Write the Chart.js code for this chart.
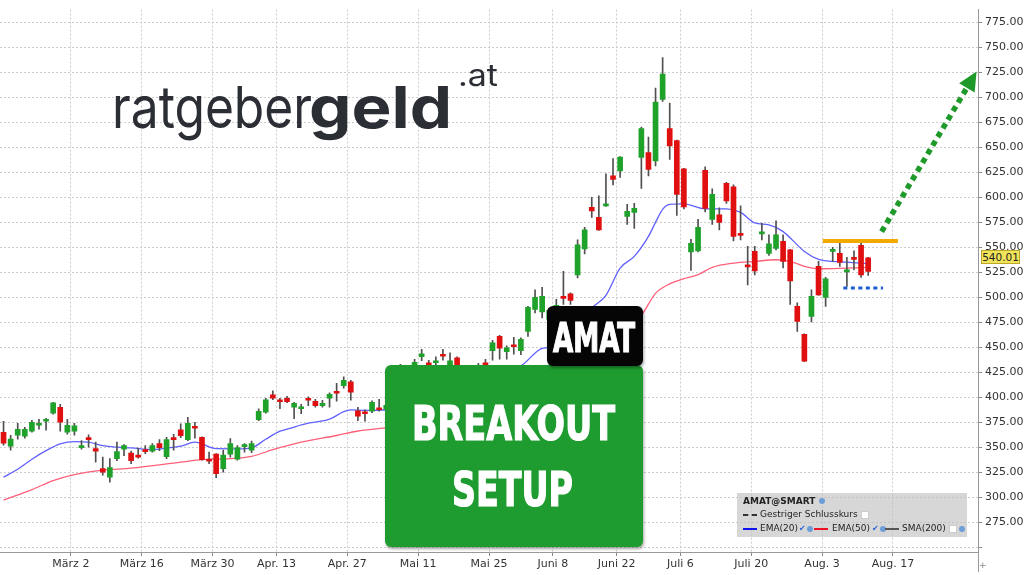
<!DOCTYPE html>
<html>
<head>
<meta charset="utf-8">
<title>AMAT Breakout Setup</title>
<script src="https://cdn.jsdelivr.net/npm/chart.js@4.4.0/dist/chart.umd.min.js"></script>
<style>
  body { margin: 0; background: #fff; }
  #wrap { position: relative; width: 1024px; height: 575px; overflow: hidden; font-family: "DejaVu Sans", sans-serif; }
  #chart { position: absolute; left: 0; top: 0; }
  .fit { position: absolute; display: inline-block; white-space: nowrap; transform-origin: 0 0; }
  .logo { font-family: Inter, "Open Sans", sans-serif; color: #2c2e35; }
  .box { position: absolute; border-radius: 6px; box-shadow: 1px 2px 3px rgba(0,0,0,0.35); }
  .green { left: 385px; top: 365px; width: 258px; height: 182px; background: #1f9c2f; }
  .black { left: 547px; top: 306px; width: 96px; height: 60px; background: #050505; }
  .big { color: #fff; font-family: "Liberation Sans Narrow", "DejaVu Sans Condensed", "DejaVu Sans", sans-serif; font-weight: 700; -webkit-text-stroke: 1.2px #fff; }
  .legend { position: absolute; left: 737px; top: 493px; width: 230px; height: 44px; background: rgba(190,190,190,0.62); font-size: 9px; color: #222; }
  .legend span { position: absolute; white-space: nowrap; }
  .ln { width: 14px; height: 0; }
  .dot { width: 6px; height: 6px; border-radius: 50%; background: #6d9ed8; }
  .chk { color: #2a62d6; font-size: 8px; }
  .sq { width: 6px; height: 6px; background: #fff; border: 1px solid #ccc; }
  .price { position: absolute; left: 981px; top: 250px; width: 37px; height: 12px; background: #f1e35a; border: 1px solid #b9a82a; font-size: 10.5px; line-height: 12px; text-align: center; color: #222; }
  .axisfoot { position: absolute; left: 978px; top: 552px; width: 1px; height: 20px; background: #999; }
  .plus { position: absolute; left: 979px; top: 560px; font-size: 9px; color: #888; }
</style>
</head>
<body>
<div id="wrap">
  <canvas id="chart" width="1024" height="575"></canvas>
  <div class="axisfoot"></div>
  <span class="plus">+</span>

  <span class="fit logo" data-w="200" style="left:112px;top:78px;font-size:58px;line-height:58px;font-weight:400">ratgeber</span>
  <span class="fit logo" data-w="143" style="left:309px;top:78px;font-size:58px;line-height:58px;font-weight:700">geld</span>
  <span class="fit logo" data-w="40" style="left:458px;top:60px;font-size:30px;line-height:30px;font-weight:400">.at</span>

  <div class="box green"></div>
  <span class="fit big" data-w="203" style="left:412px;top:399px;font-size:48px;line-height:48px">BREAKOUT</span>
  <span class="fit big" data-w="121" style="left:452px;top:465px;font-size:48px;line-height:48px">SETUP</span>
  <div class="box black"></div>
  <span class="fit big" data-w="82" style="left:553px;top:318px;font-size:40px;line-height:40px">AMAT</span>

  <div class="price">540.01</div>

  <div class="legend">
    <span style="left:6px;top:3px;font-weight:bold">AMAT@SMART</span>
    <span class="dot" style="left:82px;top:5px"></span>
    <span class="ln" style="left:6px;top:21px;border-top:2px dashed #333"></span>
    <span style="left:23px;top:16px">Gestriger Schlusskurs</span>
    <span class="sq" style="left:124px;top:18px"></span>
    <span class="ln" style="left:6px;top:35px;border-top:2px solid #1010ee"></span>
    <span style="left:23px;top:30px">EMA(20)</span>
    <span class="chk" style="left:62px;top:31px">✔</span>
    <span class="dot" style="left:70px;top:33px"></span>
    <span class="ln" style="left:77px;top:35px;border-top:2px solid #ee1122"></span>
    <span style="left:95px;top:30px">EMA(50)</span>
    <span class="chk" style="left:135px;top:31px">✔</span>
    <span class="dot" style="left:143px;top:33px"></span>
    <span class="ln" style="left:148px;top:35px;border-top:2px solid #555"></span>
    <span style="left:165px;top:30px">SMA(200)</span>
    <span class="sq" style="left:212px;top:32px"></span>
    <span class="dot" style="left:222px;top:33px"></span>
  </div>
</div>

<script>
// trading days 0..122, price candles
const opens = [
  365, 351, 362, 361, 366, 372, 376, 384, 390, 365,
  366, 349.5, 359.5, 348.5, 328.5, 320, 338.5, 348, 344, 341.5,
  347.5, 346, 353.5, 340.5, 359.5, 367.5, 357.5, 370.5, 360, 338,
  343, 328.5, 343, 338, 350.5, 347, 377.5, 385, 402.5, 397.5,
  399, 390, 388.5, 399, 396, 391.5, 399, 405.5, 411.5, 415.5,
  386.5, 385, 386, 389.5, 388, 392, 405, 418, 427, 440.5,
  434.5, 434.5, 443, 428, 439.5, 428, 422, 420, 434.5, 446.5,
  461, 445.5, 452.5, 446.5, 466, 488, 485.5, 478, 482, 501,
  503.5, 522.5, 548.5, 590, 580, 591.5, 621.5, 626.5, 581, 585,
  640, 645, 636.5, 698, 669, 657, 628.5, 545.5, 546.5, 627,
  578, 582.5, 614, 610.5, 564, 532, 546, 563.5, 544, 549,
  556, 547.5, 491, 463, 481, 531, 500, 546, 544, 525.5, 540, 552, 539.5
];
const highs = [
  376, 362, 374, 370, 377, 378, 379, 395, 393, 378,
  374, 356.5, 362.5, 355, 340, 338.5, 355, 352.5, 346, 349,
  351.5, 353.5, 357.5, 360, 363, 373.5, 380, 375, 360.5, 345,
  343.5, 347, 358.5, 351.5, 353.5, 356, 388.5, 399, 406.5, 399,
  401, 395, 393, 400.5, 398, 397, 404.5, 414, 420.5, 417,
  390, 387.5, 396.5, 398, 395, 402, 433, 428, 438, 448,
  437, 440.5, 448, 444.5, 440.5, 431, 426, 434, 438, 457,
  462, 451.5, 460, 459.5, 491, 507.5, 510, 489, 498, 526,
  504.5, 557.5, 570, 600, 601.5, 623.5, 639, 641, 593, 594,
  670.5, 660.5, 709.5, 740, 694.5, 657.5, 629, 558, 578, 630.5,
  608.5, 589.5, 615, 612.5, 591.5, 551, 551, 574, 562.5, 576.5,
  562.5, 548, 494.5, 463.5, 507.5, 536, 520, 550, 555, 540, 546.5, 555, 540
];
const lows = [
  352, 347, 358, 359, 365, 368, 367, 383, 366, 363,
  362, 348, 350, 335, 322, 315, 336.5, 341.5, 333.5, 339,
  343.5, 345, 346.5, 338.5, 347, 359.5, 356.5, 359, 337, 333.5,
  319.5, 325, 340, 337, 345, 344.5, 376.5, 384, 397.5, 388.5,
  394.5, 378.5, 383.5, 391.5, 390, 390, 390, 396, 409, 397,
  376.5, 376, 384.5, 386, 385, 390, 403, 414, 423, 436.5,
  423, 431.5, 437, 425, 425, 418, 414, 417, 430, 437,
  438, 438, 443, 442.5, 461, 484.5, 479.5, 474, 478, 493,
  493, 519.5, 543.5, 580, 567, 591, 612.5, 620, 573, 569,
  609, 621.5, 631.5, 696, 638, 582, 588.5, 527, 545.5, 585.5,
  573, 567.5, 594, 556.5, 557.5, 512.5, 522.5, 557.5, 542, 547.5,
  529.5, 493, 466, 435.5, 475.5, 502, 491, 536, 531, 511, 527.5, 520, 522
];
const closes = [
  354, 358, 368, 368, 375, 373, 377.5, 394.5, 375, 372,
  371.5, 350.5, 357.5, 346, 325, 329.5, 345.5, 351.5, 336.5, 340,
  345.5, 351.5, 349.5, 357.5, 357.5, 361.5, 374, 369, 337.5, 336,
  323.5, 342, 353.5, 349.5, 352.5, 353.5, 386, 397.5, 399, 395.5,
  395.5, 394, 390.5, 397, 391.5, 394, 403, 404, 417, 405,
  381, 383.5, 395, 387.5, 392, 398, 418, 425, 435, 443.5,
  426, 436.5, 441, 436.5, 428, 422, 418, 432, 432.5, 454.5,
  449, 449.5, 450.5, 458, 490, 500, 501, 487, 492, 499,
  497, 552.5, 567.5, 586.5, 567.5, 592.5, 618, 640.5, 586, 589,
  669, 628, 695.5, 723.5, 651.5, 603, 590.5, 554, 570, 589,
  603, 575, 596.5, 561, 562, 530.5, 526.5, 564.5, 553.5, 562.5,
  536, 516.5, 476, 436, 501, 502.5, 518.5, 547.5, 535, 527.5, 538, 522.5, 526
];

// moving averages, sampled at these trading-day indices
const ema20Days = [0, 2, 4, 6, 8, 10, 12, 14, 16, 18, 21, 23, 25, 27, 30, 33, 35, 37, 39, 40, 43, 46, 48, 49, 51, 54,
  58, 62, 66, 70, 73, 76, 77, 80, 83, 85, 87, 89, 91, 92, 93, 94, 96, 99, 102, 104, 106, 108, 110, 112, 113, 115, 117, 119, 122];
const ema20 = [320, 328, 338, 346.5, 353.3, 355.6, 355, 351.5, 350, 349.3, 347.7, 349.2, 351, 355, 348.5, 348.4, 349.4, 358, 366, 368, 374, 378, 385.5, 387.3, 386.8, 387.5,
  395, 410, 418, 425, 431.4, 449, 450, 470, 489.5, 502, 529.3, 541, 561, 575, 588, 593, 593.5, 588.5, 588.5, 585, 574.5, 572.5, 565.8, 552.5, 545.9, 538, 536, 535.3, 533.6];
const ema50Days = [0, 4, 7, 10, 14, 18, 25, 28, 32, 35, 38, 42, 47, 50, 54, 60, 66, 72, 78, 84, 90, 92, 94, 96, 98, 100, 103, 106, 109, 111, 113, 115, 119, 122];
const ema50 = [297, 307.5, 316.5, 322.5, 327, 329, 335, 337.5, 338.5, 340.8, 347.5, 355, 361.7, 366.2, 369.5, 379, 390, 402, 415, 445, 482, 504, 513.5, 518.7, 522.7, 530, 534.3, 536, 537.6, 536, 531, 528.6, 529.3, 530];

// x axis: first trading day of each labelled week
const tickDays = [10, 20, 30, 39, 49, 59, 69, 78, 87, 96, 106, 116, 126];
const tickLabels = ['März 2', 'März 16', 'März 30', 'Apr. 13', 'Apr. 27', 'Mai 11', 'Mai 25', 'Juni 8', 'Juni 22', 'Juli 6', 'Juli 20', 'Aug. 3', 'Aug. 17'];
const priceTicks = [250, 275, 300, 325, 350, 375, 400, 425, 450, 475, 500, 525, 550, 575, 600, 625, 650, 675, 700, 725, 750, 775];

const UP = '#1fa22a', DOWN = '#e01010';

const wicks = opens.map((o, i) => ({ x: i, y: [lows[i], highs[i]] }));
const bodies = opens.map((o, i) => ({ x: i, y: [o, closes[i]] }));
const bodyColors = opens.map((o, i) => closes[i] >= o ? UP : DOWN);

// squeeze each overlay text to the width it has in the picture
document.querySelectorAll('.fit').forEach(el => {
  const w = el.getBoundingClientRect().width;
  el.style.transform = 'scaleX(' + (+el.dataset.w / w) + ')';
});

// drawn levels and the arrow on top of the candles
const drawings = {
  id: 'drawings',
  afterDatasetsDraw(chart) {
    const { ctx } = chart;
    const x = chart.scales.x, y = chart.scales.y;
    const px = v => x.getPixelForValue(v), py = v => y.getPixelForValue(v);
    ctx.save();
    // resistance
    ctx.strokeStyle = '#f2aa00';
    ctx.lineWidth = 4;
    ctx.beginPath();
    ctx.moveTo(px(115.6), py(556.5));
    ctx.lineTo(px(126.2), py(556.5));
    ctx.stroke();
    // support
    ctx.strokeStyle = '#1a5ccf';
    ctx.lineWidth = 3;
    ctx.setLineDash([4, 3.5]);
    ctx.beginPath();
    ctx.moveTo(px(118.5), py(509.4));
    ctx.lineTo(px(124.1), py(509.4));
    ctx.stroke();
    // arrow
    const x0 = px(123.9), y0 = py(565.8), x1 = px(137.3), y1 = py(726);
    const len = Math.hypot(x1 - x0, y1 - y0), ux = (x1 - x0) / len, uy = (y1 - y0) / len;
    const hl = 19, hw = 9;
    ctx.strokeStyle = '#1f9a2a';
    ctx.fillStyle = '#1f9a2a';
    ctx.lineWidth = 5.5;
    ctx.setLineDash([5.5, 4.5]);
    ctx.beginPath();
    ctx.moveTo(x0, y0);
    ctx.lineTo(x1 - ux * hl, y1 - uy * hl);
    ctx.stroke();
    ctx.setLineDash([]);
    ctx.beginPath();
    ctx.moveTo(x1, y1);
    ctx.lineTo(x1 - ux * hl - uy * hw, y1 - uy * hl + ux * hw);
    ctx.lineTo(x1 - ux * hl + uy * hw, y1 - uy * hl - ux * hw);
    ctx.closePath();
    ctx.fill();
    ctx.restore();
  }
};

new Chart(document.getElementById('chart'), {
  type: 'bar',
  data: {
    datasets: [
      { type: 'line', label: 'EMA(20)', data: ema20Days.map((d, i) => ({ x: d, y: ema20[i] })),
        borderColor: '#6060ff', borderWidth: 1.3, pointRadius: 0, cubicInterpolationMode: 'monotone', order: 5 },
      { type: 'line', label: 'EMA(50)', data: ema50Days.map((d, i) => ({ x: d, y: ema50[i] })),
        borderColor: '#ff6078', borderWidth: 1.3, pointRadius: 0, cubicInterpolationMode: 'monotone', order: 4 },
      { label: 'Docht', data: wicks, backgroundColor: '#505050', barThickness: 1, grouped: false, order: 2 },
      { label: 'Kerze', data: bodies, backgroundColor: bodyColors, barThickness: 5, minBarLength: 2, grouped: false, order: 1 }
    ]
  },
  options: {
    responsive: false,
    animation: false,
    layout: { padding: 0 },
    plugins: { legend: { display: false }, tooltip: { enabled: false } },
    scales: {
      x: {
        type: 'linear',
        min: -0.5,
        max: 137.5,
        offset: false,
        afterBuildTicks: s => { s.ticks = tickDays.map(d => ({ value: d - 0.5 })); },
        afterFit: s => { s.height = 23; },
        ticks: {
          autoSkip: false, maxRotation: 0, padding: 2, color: '#333',
          font: { family: 'DejaVu Sans', size: 11 },
          callback: (v, i) => tickLabels[i]
        },
        grid: { offset: false, color: '#cdcdcd', tickColor: '#888', tickLength: 4 },
        border: { color: '#999', dash: [2, 2] }
      },
      y: {
        position: 'right',
        min: 245.1,
        max: 788,
        afterBuildTicks: s => { s.ticks = priceTicks.map(v => ({ value: v })); },
        afterFit: s => { s.width = 46; },
        ticks: {
          padding: 3, color: '#333',
          font: { family: 'DejaVu Sans', size: 11 },
          callback: v => v === 250 ? '' : v.toFixed(2)
        },
        grid: { color: '#cdcdcd', tickColor: '#888', tickLength: 4 },
        border: { color: '#999', dash: [2, 2] }
      }
    }
  },
  plugins: [drawings]
});
</script>
</body>
</html>
